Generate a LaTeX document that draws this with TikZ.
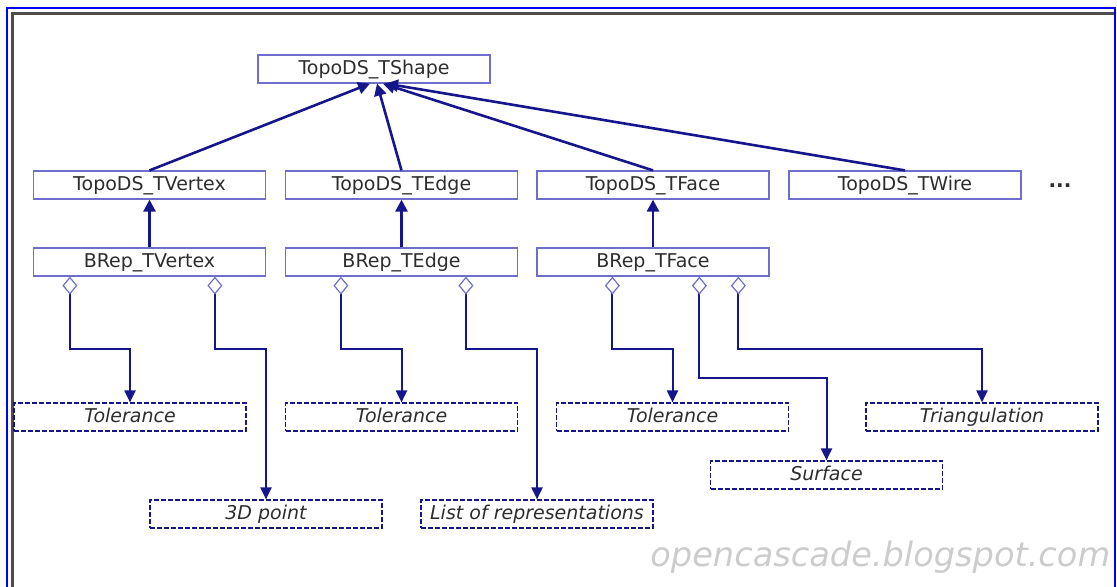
\documentclass[tikz,border=0pt]{standalone}
\usepackage{fontspec}
\setmainfont{DejaVu Sans}
\usetikzlibrary{arrows.meta}
\definecolor{boxblue}{RGB}{110,110,205}
\definecolor{navy}{RGB}{22,22,140}
\definecolor{txtgray}{RGB}{45,45,45}
\begin{document}
\begin{tikzpicture}[x=0.5pt, y=-0.5pt,
    cls/.style={draw=boxblue, line width=0.6pt, minimum width=116pt, minimum height=14pt,
                inner sep=0pt, text height=7pt, text depth=1.5pt, text=txtgray,
                font=\fontsize{9.5}{11}\selectfont},
    attr/.style={cls, draw=navy, dash pattern=on 2.5pt off 1pt, font=\fontsize{9.5}{11}\selectfont\itshape},
    inherit/.style={draw=navy, line width=1.3pt, -{Triangle[length=6pt,width=6pt]}},
    agg/.style={draw=navy, line width=1pt,
                {Diamond[open,length=9pt,width=7.5pt,line width=0.6pt,color=boxblue]}-{Triangle[length=6pt,width=5.5pt]}}]
      \useasboundingbox (0, 0) rectangle (1117, 586);
      % frame
      \draw[blue, line width=1pt] (7, 600) -- (7, 8) -- (1115, 8) -- (1115, 600);
      \draw[gray!60!black, line width=1.5pt] (12, 600) -- (12, 13.5) -- (1114, 13.5);
      % classes
      \node[cls] (ts) at (374, 69) {TopoDS\_TShape};
      \node[cls] (tv) at (149.5, 185) {TopoDS\_TVertex};
      \node[cls] (te) at (401.5, 185) {TopoDS\_TEdge};
      \node[cls] (tf) at (653, 185) {TopoDS\_TFace};
      \node[cls] (tw) at (905, 185) {TopoDS\_TWire};
      \node[text=txtgray, font=\fontsize{10}{11}\selectfont\bfseries] (more) at (1060, 186) {...};
      \node[cls] (bv) at (149.5, 262) {BRep\_TVertex};
      \node[cls] (be) at (401.5, 262) {BRep\_TEdge};
      \node[cls] (bf) at (653, 262) {BRep\_TFace};
      % attributes
      \node[attr] (tol1) at (130, 417) {Tolerance};
      \node[attr] (tol2) at (401.5, 417) {Tolerance};
      \node[attr] (tol3) at (672.5, 417) {Tolerance};
      \node[attr] (tri) at (982, 417) {Triangulation};
      \node[attr] (srf) at (826.5, 475) {Surface};
      \node[attr] (pnt) at (266, 514) {3D point};
      \node[attr] (lst) at (537, 514) {List of representations};
      % inheritance
      \draw[inherit] (tv.north) -- ([xshift=-2pt]ts.south);
      \draw[inherit] (te.north) -- ([xshift=1.5pt]ts.south);
      \draw[inherit] (tf.north) -- ([xshift=4.5pt]ts.south);
      \draw[inherit] (tw.north) -- ([xshift=6pt]ts.south);
      \draw[inherit] (bv.north) -- (tv.south);
      \draw[inherit] (be.north) -- (te.south);
      \draw[inherit] (bf.north) -- (tf.south);
      % aggregation
      \draw[agg] ([xshift=18.5pt]bv.south west) |- ([yshift=26.5pt]tol1.north) -- (tol1.north);
      \draw[agg] ([xshift=91pt]bv.south west) |- ([yshift=75pt]pnt.north) -- (pnt.north);
      \draw[agg] ([xshift=28pt]be.south west) |- ([yshift=26.5pt]tol2.north) -- (tol2.north);
      \draw[agg] ([xshift=90.5pt]be.south west) |- ([yshift=75pt]lst.north) -- (lst.north);
      \draw[agg] ([xshift=38pt]bf.south west) |- ([yshift=26.5pt]tol3.north) -- (tol3.north);
      \draw[agg] ([xshift=81.5pt]bf.south west) |- ([yshift=41pt]srf.north) -- (srf.north);
      \draw[agg] ([xshift=101pt]bf.south west) |- ([yshift=26.5pt]tri.north) -- (tri.north);
      % watermark
      \node[anchor=base west, inner sep=0pt, text=gray!40, font=\fontsize{16.8}{20}\selectfont\itshape]
            (wm) at (650, 566) {opencascade.blogspot.com};
\end{tikzpicture}
\end{document}
